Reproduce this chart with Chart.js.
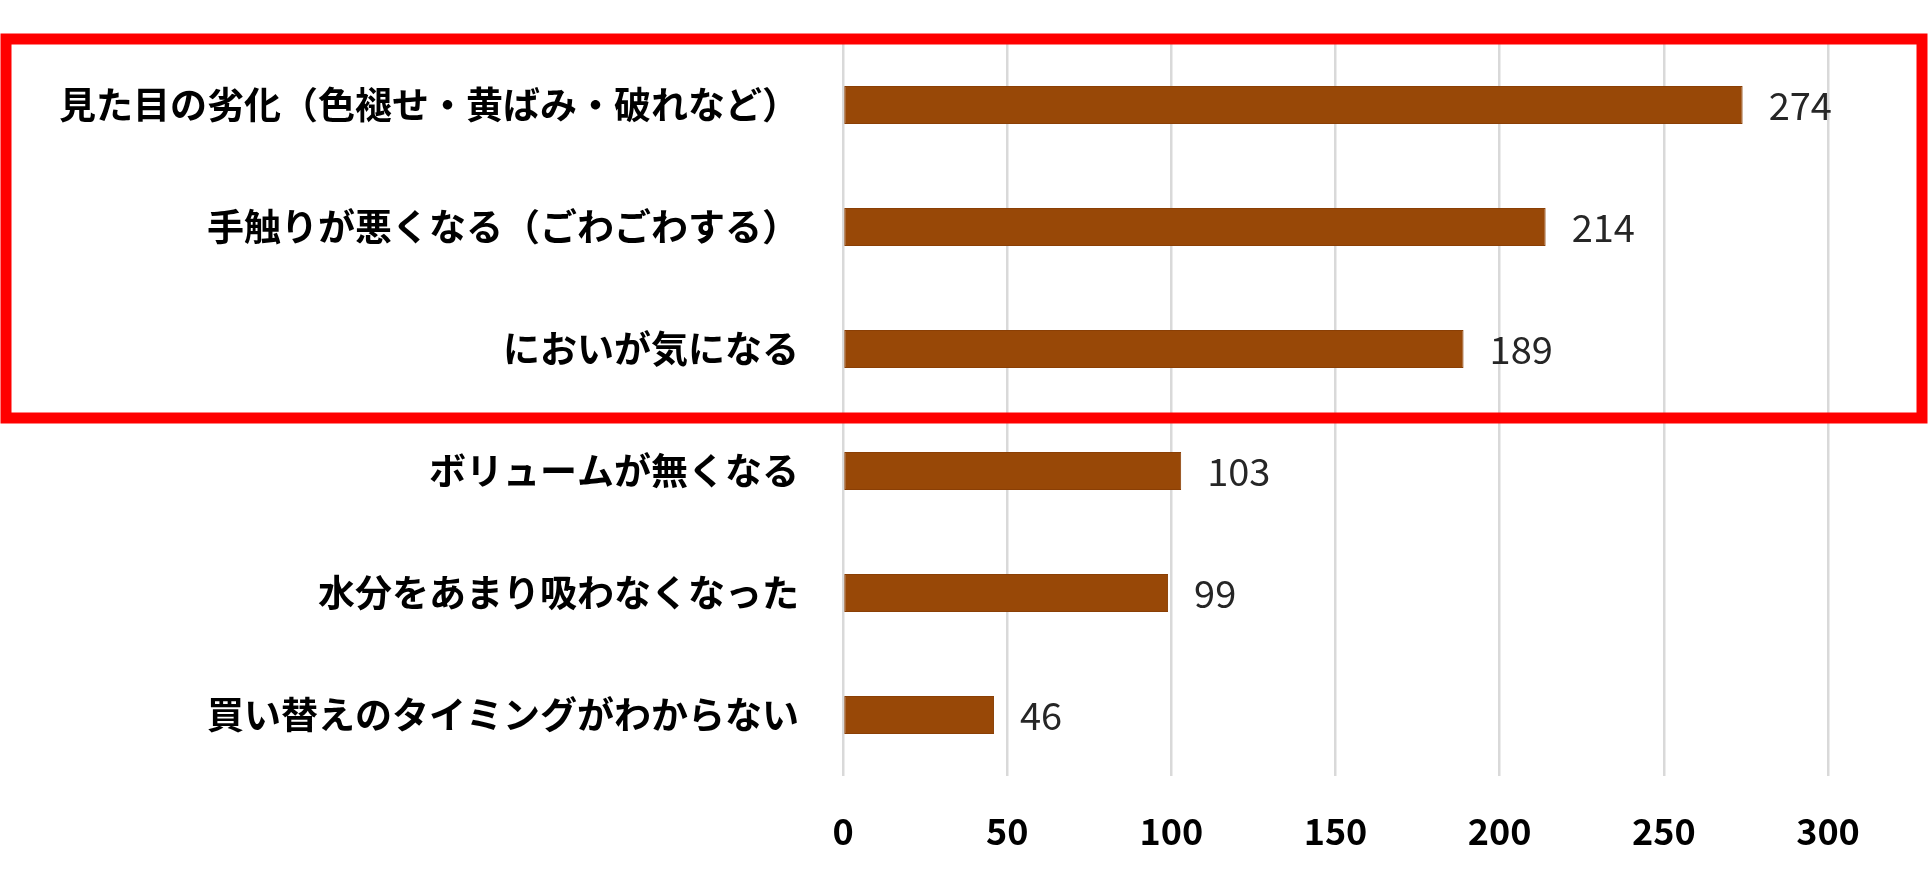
<!DOCTYPE html>
<html>
<head>
<meta charset="utf-8">
<script src="https://cdn.jsdelivr.net/npm/chart.js@4/dist/chart.umd.min.js"></script>
<style>
  html, body { margin: 0; padding: 0; background: #fff; overflow: hidden; }
  canvas { display: block; }
</style>
</head>
<body>
<canvas id="chart" width="1928" height="885"></canvas>
<script>
const reasons = [
  "見た目の劣化（色褪せ・黄ばみ・破れなど）",
  "手触りが悪くなる（ごわごわする）",
  "においが気になる",
  "ボリュームが無くなる",
  "水分をあまり吸わなくなった",
  "買い替えのタイミングがわからない"
];
const counts = [274, 214, 189, 103, 99, 46];
const xTicks = [0, 50, 100, 150, 200, 250, 300];
const highlighted = 3; // first three rows are boxed in red

const JP = "'Noto Sans CJK JP', 'Noto Sans', sans-serif";

// value labels next to each bar
const valueLabels = {
  id: "valueLabels",
  afterDatasetsDraw(chart) {
    const { ctx } = chart;
    const meta = chart.getDatasetMeta(0);
    ctx.save();
    ctx.font = "38px " + JP;
    ctx.fillStyle = "#262626";
    ctx.textAlign = "left";
    ctx.textBaseline = "middle";
    meta.data.forEach((bar, i) => {
      ctx.fillText(String(counts[i]), bar.x + 26, bar.y + 1);
    });
    ctx.restore();
  }
};

// red highlight frame around the top rows
const highlightBox = {
  id: "highlightBox",
  afterDraw(chart) {
    const { ctx, scales } = chart;
    const y = scales.y;
    const step = y.getPixelForValue(1) - y.getPixelForValue(0);
    const top = y.getPixelForValue(0) - step / 2 - 5;
    const bottom = y.getPixelForValue(highlighted - 1) + step / 2 + 8;
    ctx.save();
    ctx.strokeStyle = "#ff0000";
    ctx.lineWidth = 11;
    ctx.strokeRect(6, top, chart.width - 12, bottom - top);
    ctx.restore();
  }
};

new Chart(document.getElementById("chart").getContext("2d"), {
  type: "bar",
  data: {
    labels: reasons,
    datasets: [
      {
        data: counts,
        backgroundColor: "#984807",
        borderColor: "#8a3f05",
        borderWidth: 1,
        borderSkipped: false,
        categoryPercentage: 1,
        barPercentage: 0.31
      }
    ]
  },
  options: {
    indexAxis: "y",
    responsive: false,
    animation: false,
    devicePixelRatio: 1,
    layout: { padding: { top: 44, right: 100, bottom: 0, left: 0 } },
    plugins: {
      legend: { display: false },
      tooltip: { enabled: false }
    },
    scales: {
      x: {
        min: 0,
        max: 300,
        afterBuildTicks(scale) {
          scale.ticks = xTicks.map(v => ({ value: v }));
        },
        afterFit(scale) {
          scale.height = 109;
        },
        grid: { color: "#d9d9d9", lineWidth: 2.5, drawTicks: false },
        border: { display: false },
        ticks: {
          padding: 34,
          color: "#000",
          font: { family: JP, size: 36, weight: "bold" }
        }
      },
      y: {
        afterFit(scale) {
          scale.width = 843;
          scale.paddingTop = 0;
          scale.paddingBottom = 0;
        },
        grid: { display: false, drawTicks: false },
        border: { display: false },
        ticks: {
          padding: 44,
          color: "#000",
          font: { family: JP, size: 37, weight: "bold" }
        }
      }
    }
  },
  plugins: [valueLabels, highlightBox]
});
</script>
</body>
</html>
